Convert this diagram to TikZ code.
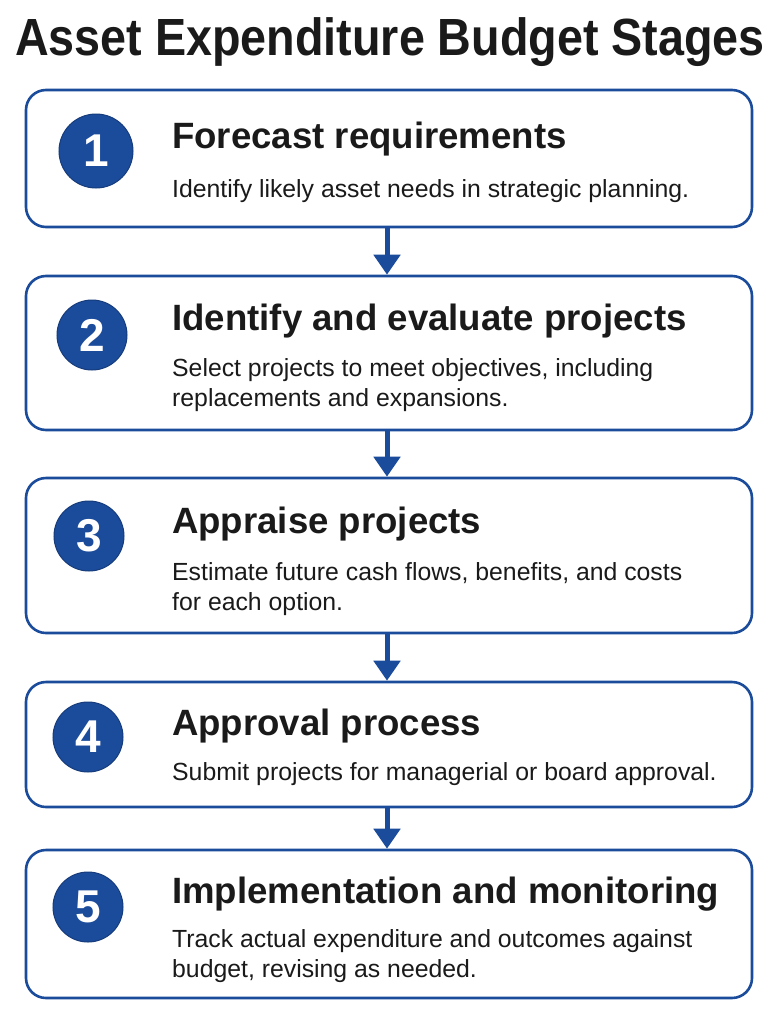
\documentclass[tikz,border=0pt]{standalone}
\usepackage{fontspec}
\setmainfont{Liberation Sans}
\usetikzlibrary{arrows.meta}
\definecolor{navy}{HTML}{1B4B9B}
\definecolor{ink}{HTML}{1A1A1A}
\begin{document}
\begin{tikzpicture}[x=1pt,y=-1pt,
  stagebox/.style={draw=navy, line width=2.6pt, rounded corners=20pt, fill=white, minimum width=726pt, inner sep=0pt},
  numdisc/.style={circle, fill=navy, draw=navy!80!black, line width=1pt, minimum size=70pt, inner sep=0pt, text=white, font=\fontsize{46}{46}\selectfont\bfseries},
  headtext/.style={anchor=base west, inner sep=0pt, text=ink, font=\fontsize{36.6}{44}\selectfont\bfseries},
  desctext/.style={anchor=base west, inner sep=0pt, text=ink, align=left, font=\fontsize{24.8}{29.5}\selectfont},
  flowarrow/.style={draw=navy, line width=5pt, -{Triangle[width=26pt,length=20pt]}}
]
\useasboundingbox[fill=white] (0,0) rectangle (779,1015);

\node[anchor=base, inner sep=0pt, text=ink, font=\fontsize{46.7}{50}\selectfont\bfseries, yscale=1.12] (title) at (390,55) {Asset Expenditure Budget Stages};

\node[stagebox, minimum height=137pt] (b1) at (389,158.5) {};
\node[stagebox, minimum height=154pt] (b2) at (389,353) {};
\node[stagebox, minimum height=155pt] (b3) at (389,555.5) {};
\node[stagebox, minimum height=125pt] (b4) at (389,744.5) {};
\node[stagebox, minimum height=148pt] (b5) at (389,924) {};

\node[numdisc, minimum size=74pt] (n1) at (96,151) {1};
\node[numdisc] (n2) at (92,335) {2};
\node[numdisc] (n3) at (89,536) {3};
\node[numdisc] (n4) at (88,737) {4};
\node[numdisc] (n5) at (88,907) {5};

\node[headtext] (h1) at (172,148) {Forecast requirements};
\node[desctext] (d1) at (172,197) {Identify likely asset needs in strategic planning.};

\node[headtext] (h2) at (172,330) {Identify and evaluate projects};
\node[desctext] (d2) at (172,406) {Select projects to meet objectives, including\\replacements and expansions.};

\node[headtext] (h3) at (172,533) {Appraise projects};
\node[desctext] (d3) at (172,610) {Estimate future cash flows, benefits, and costs\\for each option.};

\node[headtext] (h4) at (172,735) {Approval process};
\node[desctext] (d4) at (172,780) {Submit projects for managerial or board approval.};

\node[headtext] (h5) at (172,903) {Implementation and monitoring};
\node[desctext] (d5) at (172,977) {Track actual expenditure and outcomes against\\budget, revising as needed.};

\draw[flowarrow] ([xshift=-2pt]b1.south) -- ([xshift=-2pt]b2.north);
\draw[flowarrow] ([xshift=-2pt]b2.south) -- ([xshift=-2pt]b3.north);
\draw[flowarrow] ([xshift=-2pt]b3.south) -- ([xshift=-2pt]b4.north);
\draw[flowarrow] ([xshift=-2pt]b4.south) -- ([xshift=-2pt]b5.north);
\end{tikzpicture}
\end{document}
